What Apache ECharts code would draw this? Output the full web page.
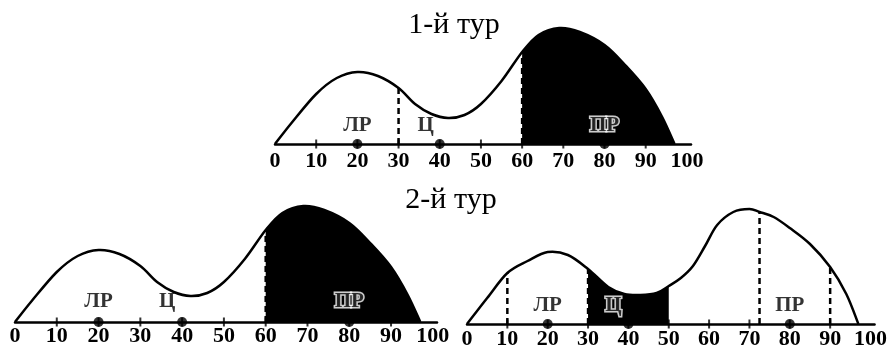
<!DOCTYPE html>
<html><head><meta charset="utf-8">
<script src="https://cdn.jsdelivr.net/npm/echarts@6/dist/echarts.min.js"></script>
<style>html,body{margin:0;padding:0;background:#fff}#c{width:890px;height:350px}</style>
</head><body><div id="c"></div><script>
// ---- data ----
const tickLabels = [0,10,20,30,40,50,60,70,80,90,100];
const tickMarks = [10,20,30,40,50,60,70,80,90];
const parties = ['ЛР','Ц','ПР'];
const partyPos = [20,40,80];

// distribution of voters, 1st round (same curve in top and bottom-left panels)
const round1X = [0,4,10,15,20,25,30,34,38,42,46,50,55,60,64,69,74,80,85,90,94,97];
const round1Y = [0,21,50,66,72,68,56,40,30,26,29,40,63,92,109,116,112,99,79,55,27,0];
// distribution of voters, 2nd round (bottom-right panel)
const round2X = [0,5,10,15,20,25,30,35,39,43,47,50,53,56,59,62,66,70,72.5,76,80,85,90,94,97];
const round2Y = [0,26,51,63,72,69,55,37,30,29,31,38,46,58,78,99,112,115,112,107,96,80,57,30,0];

const topDashes = [30,60];
const topFill = [60,101];
const leftDashes = [60];
const rightDashes = [10,30,72.5,90];
const rightFill = [30,50];
const titles = ['1-й тур','2-й тур'];

// ---- chart ----
const FONT = 'Liberation Serif';
const chart = echarts.init(document.getElementById('c'), null, {renderer:'canvas'});
const grids = [
  {left:275, top:19, width:416, height:125},
  {left:15, top:197, width:422, height:125},
  {left:467, top:199, width:415, height:125}
];
const xAxes = [], yAxes = [], series = [];
const labelMargins = [6, 3, 4];
grids.forEach((g, i) => {
  xAxes.push({gridIndex:i, type:'value', min:0, max:101,
    axisLine:{lineStyle:{color:'#000', width:2.5}},
    axisTick:{show:false}, splitLine:{show:false},
    axisLabel:{customValues:tickLabels, color:'#000', fontFamily:FONT, fontWeight:'bold', fontSize:22, margin:labelMargins[i]}
  });
  yAxes.push({gridIndex:i, type:'value', min:0, max:125, show:false, splitLine:{show:false}});
});

// smooth curve (Catmull-Rom through the data points, in pixel space via the axes)
function curveRenderer(fill) {
  return function(params, api) {
    if (params.dataIndexInside !== 0) return null;
    const n = params.dataInsideLength;
    const X = [], P = [];
    for (let k = 0; k < n; k++) {
      X.push(api.value(0, k));
      P.push(api.coord([api.value(0, k), api.value(1, k)]));
    }
    const y0 = api.coord([0, 0])[1];
    const f = v => v.toFixed(2);
    const seg = k => {
      const p0 = P[Math.max(k-1,0)], p1 = P[k], p2 = P[k+1], p3 = P[Math.min(k+2,n-1)];
      const c1 = [p1[0]+(p2[0]-p0[0])/6, p1[1]+(p2[1]-p0[1])/6];
      const c2 = [p2[0]-(p3[0]-p1[0])/6, p2[1]-(p3[1]-p1[1])/6];
      return `C${f(c1[0])} ${f(c1[1])} ${f(c2[0])} ${f(c2[1])} ${f(p2[0])} ${f(p2[1])}`;
    };
    let outline = `M${f(P[0][0])} ${f(P[0][1])}`;
    for (let k = 0; k < n-1; k++) outline += seg(k);
    let a = X.findIndex(v => v >= fill[0]);
    let b = n - 1; while (b > 0 && X[b] > fill[1]) b--;
    let area = `M${f(P[a][0])} ${f(y0)}L${f(P[a][0])} ${f(P[a][1])}`;
    for (let k = a; k < b; k++) area += seg(k);
    area += `L${f(P[b][0])} ${f(y0)}Z`;
    return {type:'group', children:[
      {type:'path', shape:{pathData:area}, style:{fill:'#000', stroke:null}},
      {type:'path', shape:{pathData:outline}, style:{fill:null, stroke:'#000', lineWidth:2.5, lineJoin:'round'}}
    ]};
  };
}

function addPanel(i, xs, ys, dashes, fill, labelOpts, dist) {
  const pts = xs.map((x,k)=>[x, ys[k]]);
  series.push({type:'custom', xAxisIndex:i, yAxisIndex:i, data:pts, renderItem:curveRenderer(fill),
    encode:{x:0, y:1}, z:2, silent:true});
  dashes.forEach(d => {
    const h = ys[xs.indexOf(d)];
    series.push({type:'line', xAxisIndex:i, yAxisIndex:i, data:[[d,0],[d,h]], symbol:'none',
      lineStyle:{color:'#000', width:2.5, type:[6,4]}, z:4});
  });
  series.push({type:'scatter', xAxisIndex:i, yAxisIndex:i, data:tickMarks.map(t=>[t,0]),
    symbol:'rect', symbolSize:[2,9], itemStyle:{color:'#000'}, z:5});
  series.push({type:'scatter', xAxisIndex:i, yAxisIndex:i, data:partyPos.map(p=>[p,0]),
    symbol:'circle', symbolSize:10, itemStyle:{color:'#000'}, z:6});
  series.push({type:'scatter', xAxisIndex:i, yAxisIndex:i, symbolSize:0, z:7,
    data:parties.map((n,k)=>({name:n, value:[partyPos[k],0], label:labelOpts[k]})),
    label:{show:true, position:'top', distance:dist, formatter:'{b}', color:'#000',
      fontFamily:FONT, fontWeight:'bold', fontSize:21}});
}
const outlined = {textBorderColor:'#fff', textBorderWidth:3};
const lblTop = [{}, {offset:[-14,0]}, Object.assign({}, outlined)];
const lblLeft = [{}, {offset:[-15,0]}, Object.assign({}, outlined)];
const lblRight = [{}, Object.assign({offset:[-15,0]}, outlined), {}];
addPanel(0, round1X, round1Y, topDashes, topFill, lblTop, 8);
addPanel(1, round1X, round1Y, leftDashes, topFill, lblLeft, 10);
addPanel(2, round2X, round2Y, rightDashes, rightFill, lblRight, 8);

chart.setOption({
  animation:false,
  backgroundColor:'#fff',
  grid:grids, xAxis:xAxes, yAxis:yAxes, series:series,
  graphic:[
    {type:'text', x:454, y:25, style:{text:titles[0], textAlign:'center', textVerticalAlign:'middle', font:'30px "Liberation Serif"', fill:'#000'}},
    {type:'text', x:451, y:200, style:{text:titles[1], textAlign:'center', textVerticalAlign:'middle', font:'30px "Liberation Serif"', fill:'#000'}}
  ]
});
</script></body></html>
